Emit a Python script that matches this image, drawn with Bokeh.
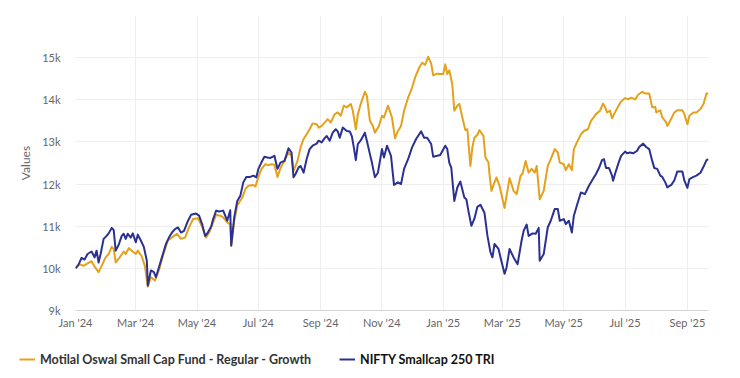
import pandas as pd
from bokeh.plotting import figure
from bokeh.layouts import column
from bokeh.models import Range1d, FixedTicker, DatetimeTickFormatter, Legend, LegendItem
from bokeh.embed import file_html
from bokeh.resources import INLINE

# ---- data (growth of 10,000) ----
fund_dates = [
    "2024-01-01", "2024-01-05", "2024-01-09", "2024-01-13", "2024-01-17", "2024-01-20", "2024-01-24", "2024-01-27",
    "2024-01-31", "2024-02-03", "2024-02-06", "2024-02-08", "2024-02-10", "2024-02-14", "2024-02-18", "2024-02-20",
    "2024-02-23", "2024-02-26", "2024-03-01", "2024-03-03", "2024-03-07", "2024-03-10", "2024-03-13", "2024-03-16",
    "2024-03-20", "2024-03-24", "2024-03-28", "2024-04-02", "2024-04-08", "2024-04-11", "2024-04-15", "2024-04-19",
    "2024-04-23", "2024-04-27", "2024-05-02", "2024-05-06", "2024-05-10", "2024-05-13", "2024-05-17", "2024-05-20",
    "2024-05-24", "2024-05-27", "2024-05-31", "2024-06-03", "2024-06-04", "2024-06-07", "2024-06-10", "2024-06-15",
    "2024-06-18", "2024-06-21", "2024-06-26", "2024-06-28", "2024-07-01", "2024-07-04", "2024-07-08", "2024-07-11",
    "2024-07-14", "2024-07-17", "2024-07-20", "2024-07-23", "2024-07-27", "2024-07-31", "2024-08-03", "2024-08-05",
    "2024-08-09", "2024-08-12", "2024-08-15", "2024-08-18", "2024-08-21", "2024-08-24", "2024-08-28", "2024-08-30",
    "2024-09-02", "2024-09-05", "2024-09-08", "2024-09-11", "2024-09-15", "2024-09-18", "2024-09-21", "2024-09-24",
    "2024-09-27", "2024-10-01", "2024-10-03", "2024-10-06", "2024-10-08", "2024-10-11", "2024-10-15", "2024-10-17",
    "2024-10-20", "2024-10-23", "2024-10-25", "2024-10-29", "2024-11-01", "2024-11-03", "2024-11-07", "2024-11-11",
    "2024-11-14", "2024-11-17", "2024-11-20", "2024-11-23", "2024-11-27", "2024-12-01", "2024-12-04", "2024-12-08",
    "2024-12-11", "2024-12-14", "2024-12-17", "2024-12-20", "2024-12-22", "2024-12-26", "2024-12-29", "2025-01-01",
    "2025-01-03", "2025-01-05", "2025-01-07", "2025-01-10", "2025-01-12", "2025-01-15", "2025-01-17", "2025-01-20",
    "2025-01-23", "2025-01-25", "2025-01-28", "2025-01-30", "2025-02-01", "2025-02-04", "2025-02-06", "2025-02-10",
    "2025-02-12", "2025-02-15", "2025-02-16", "2025-02-18", "2025-02-21", "2025-02-23", "2025-02-26", "2025-03-03",
    "2025-03-05", "2025-03-08", "2025-03-12", "2025-03-15", "2025-03-19", "2025-03-21", "2025-03-24", "2025-03-27",
    "2025-03-30", "2025-04-02", "2025-04-04", "2025-04-07", "2025-04-11", "2025-04-15", "2025-04-18", "2025-04-22",
    "2025-04-25", "2025-04-27", "2025-05-01", "2025-05-03", "2025-05-06", "2025-05-09", "2025-05-11", "2025-05-14",
    "2025-05-18", "2025-05-21", "2025-05-25", "2025-05-28", "2025-05-30", "2025-06-02", "2025-06-06", "2025-06-09",
    "2025-06-11", "2025-06-13", "2025-06-16", "2025-06-18", "2025-06-20", "2025-06-25", "2025-06-27", "2025-07-01",
    "2025-07-04", "2025-07-07", "2025-07-11", "2025-07-14", "2025-07-18", "2025-07-21", "2025-07-25", "2025-07-28",
    "2025-07-31", "2025-08-01", "2025-08-05", "2025-08-07", "2025-08-11", "2025-08-12", "2025-08-14", "2025-08-19",
    "2025-08-22", "2025-08-27", "2025-08-29", "2025-09-01", "2025-09-03", "2025-09-07", "2025-09-10", "2025-09-14",
    "2025-09-17", "2025-09-20", "2025-09-22",
]
fund_values = [
    10000, 10100, 10060, 10120, 10170, 10040, 9910, 10060,
    10260, 10340, 10510, 10460, 10140, 10260, 10400, 10340,
    10480, 10420, 10340, 10420, 10280, 10060, 9570, 9790,
    9710, 9950, 10300, 10660, 10770, 10820, 10700, 10730,
    10970, 11170, 11190, 10990, 10730, 10850, 11090, 11270,
    11250, 11210, 11090, 11040, 10540, 11130, 11490, 11680,
    11880, 11960, 11980, 11940, 12160, 12360, 12470, 12450,
    12470, 12460, 12170, 12380, 12550, 12750, 12670, 12320,
    12550, 12870, 13070, 13180, 13300, 13440, 13420, 13340,
    13380, 13460, 13540, 13460, 13660, 13700, 13620, 13860,
    13820, 13900, 13740, 13300, 13660, 13910, 14190, 14090,
    13500, 13380, 13220, 13380, 13620, 13580, 13860, 13580,
    13090, 13260, 13380, 13740, 14050, 14290, 14530, 14760,
    14880, 14830, 15020, 14860, 14580, 14620, 14610, 14610,
    14840, 14610, 14700, 14370, 13740, 13860, 13900, 13580,
    13280, 13300, 12430, 12870, 13100, 13170, 13280, 13140,
    12630, 12510, 12240, 11840, 12040, 12160, 11960, 11430,
    11720, 12140, 11840, 11760, 12200, 12250, 12550, 12270,
    12360, 12270, 12430, 11640, 11840, 12430, 12590, 12830,
    12750, 12510, 12470, 12330, 12470, 12330, 12830, 12990,
    13180, 13260, 13300, 13500, 13560, 13660, 13740, 13910,
    13830, 13700, 13740, 13560, 13660, 13880, 13960, 14040,
    14010, 14050, 14010, 14120, 14190, 14150, 14150, 13820,
    13830, 13700, 13750, 13580, 13460, 13380, 13460, 13700,
    13750, 13750, 13660, 13420, 13620, 13700, 13700, 13780,
    13900, 14150, 14150,
]

nifty_dates = [
    "2024-01-01", "2024-01-04", "2024-01-07", "2024-01-10", "2024-01-13", "2024-01-17", "2024-01-20", "2024-01-22",
    "2024-01-24", "2024-01-26", "2024-01-29", "2024-02-01", "2024-02-03", "2024-02-06", "2024-02-08", "2024-02-10",
    "2024-02-13", "2024-02-16", "2024-02-18", "2024-02-20", "2024-02-22", "2024-02-25", "2024-02-27", "2024-03-01",
    "2024-03-03", "2024-03-06", "2024-03-09", "2024-03-12", "2024-03-13", "2024-03-16", "2024-03-19", "2024-03-21",
    "2024-03-24", "2024-03-27", "2024-03-31", "2024-04-03", "2024-04-06", "2024-04-09", "2024-04-12", "2024-04-15",
    "2024-04-18", "2024-04-22", "2024-04-25", "2024-04-30", "2024-05-03", "2024-05-06", "2024-05-09", "2024-05-11",
    "2024-05-15", "2024-05-17", "2024-05-20", "2024-05-23", "2024-05-27", "2024-05-29", "2024-05-31", "2024-06-03",
    "2024-06-04", "2024-06-07", "2024-06-10", "2024-06-13", "2024-06-16", "2024-06-19", "2024-06-23", "2024-06-26",
    "2024-06-29", "2024-07-01", "2024-07-04", "2024-07-07", "2024-07-10", "2024-07-13", "2024-07-17", "2024-07-20",
    "2024-07-23", "2024-07-27", "2024-07-31", "2024-08-03", "2024-08-05", "2024-08-07", "2024-08-10", "2024-08-12",
    "2024-08-15", "2024-08-18", "2024-08-21", "2024-08-24", "2024-08-28", "2024-08-30", "2024-09-02", "2024-09-05",
    "2024-09-07", "2024-09-10", "2024-09-13", "2024-09-16", "2024-09-18", "2024-09-20", "2024-09-23", "2024-09-27",
    "2024-09-30", "2024-10-02", "2024-10-04", "2024-10-06", "2024-10-08", "2024-10-11", "2024-10-15", "2024-10-17",
    "2024-10-20", "2024-10-22", "2024-10-25", "2024-10-28", "2024-11-01", "2024-11-03", "2024-11-06", "2024-11-10",
    "2024-11-13", "2024-11-17", "2024-11-20", "2024-11-23", "2024-11-27", "2024-12-01", "2024-12-05", "2024-12-10",
    "2024-12-13", "2024-12-16", "2024-12-20", "2024-12-22", "2024-12-26", "2024-12-29", "2025-01-03", "2025-01-05",
    "2025-01-07", "2025-01-09", "2025-01-12", "2025-01-15", "2025-01-18", "2025-01-22", "2025-01-24", "2025-01-26",
    "2025-01-29", "2025-02-01", "2025-02-04", "2025-02-07", "2025-02-11", "2025-02-14", "2025-02-17", "2025-02-19",
    "2025-02-21", "2025-02-25", "2025-02-27", "2025-03-03", "2025-03-05", "2025-03-08", "2025-03-12", "2025-03-16",
    "2025-03-20", "2025-03-22", "2025-03-25", "2025-03-27", "2025-03-31", "2025-04-03", "2025-04-06", "2025-04-07",
    "2025-04-11", "2025-04-15", "2025-04-18", "2025-04-22", "2025-04-25", "2025-04-27", "2025-05-01", "2025-05-03",
    "2025-05-06", "2025-05-09", "2025-05-11", "2025-05-14", "2025-05-18", "2025-05-22", "2025-05-26", "2025-05-30",
    "2025-06-02", "2025-06-05", "2025-06-08", "2025-06-10", "2025-06-12", "2025-06-15", "2025-06-18", "2025-06-19",
    "2025-06-22", "2025-06-25", "2025-06-27", "2025-07-01", "2025-07-03", "2025-07-06", "2025-07-09", "2025-07-13",
    "2025-07-15", "2025-07-19", "2025-07-22", "2025-07-25", "2025-07-28", "2025-07-30", "2025-08-02", "2025-08-05",
    "2025-08-07", "2025-08-10", "2025-08-12", "2025-08-16", "2025-08-19", "2025-08-22", "2025-08-27", "2025-08-29",
    "2025-09-01", "2025-09-03", "2025-09-07", "2025-09-10", "2025-09-14", "2025-09-17", "2025-09-20", "2025-09-22",
]
nifty_values = [
    10000, 10090, 10250, 10210, 10340, 10400, 10260, 10420,
    10140, 10340, 10700, 10770, 10830, 10960, 10910, 10420,
    10560, 10770, 10820, 10700, 10820, 10730, 10830, 10620,
    10800, 10660, 10510, 10180, 9590, 9950, 9910, 9790,
    10020, 10260, 10580, 10730, 10850, 10930, 10970, 10850,
    10890, 11130, 11270, 11300, 11250, 11050, 10770, 10820,
    10990, 11170, 11370, 11350, 11370, 11250, 11130, 11380,
    10540, 11210, 11600, 11720, 12040, 12170, 12170, 12200,
    12160, 12360, 12510, 12650, 12630, 12620, 12670, 12360,
    12510, 12550, 12850, 12750, 12160, 12240, 12390, 12430,
    12270, 12590, 12830, 12910, 12960, 13030, 12990, 13090,
    13140, 13030, 13220, 13300, 13250, 13100, 13340, 13260,
    13250, 13140, 12870, 12570, 12950, 13040, 13220, 13030,
    12710, 12510, 12160, 12270, 12830, 12630, 12910, 12670,
    11980, 12040, 12000, 12360, 12590, 12870, 13070, 13250,
    13100, 13100, 12950, 12650, 12670, 12690, 12910, 12830,
    12510, 12390, 11600, 11920, 12060, 11680, 11640, 11370,
    11010, 11180, 11460, 11510, 11320, 10770, 10380, 10260,
    10580, 10460, 10260, 9870, 10020, 10460, 10260, 10100,
    10660, 10890, 11040, 10770, 10830, 10820, 10960, 10180,
    10340, 10970, 11130, 11410, 11410, 11130, 11170, 11050,
    11130, 10850, 11250, 11490, 11800, 11760, 11960, 12120,
    12240, 12380, 12570, 12590, 12380, 12380, 12200, 12080,
    12320, 12540, 12670, 12770, 12730, 12750, 12730, 12790,
    12880, 12960, 12880, 12830, 12550, 12380, 12360, 12200,
    12170, 12040, 11920, 11980, 12090, 12300, 12300, 12080,
    11910, 12120, 12170, 12200, 12270, 12410, 12570, 12590,
]

fund_name = "Motilal Oswal Small Cap Fund - Regular - Growth"
index_name = "NIFTY Smallcap 250 TRI"

y_ticks = [9000, 10000, 11000, 12000, 13000, 14000, 15000]
y_tick_labels = ["9k", "10k", "11k", "12k", "13k", "14k", "15k"]
x_tick_months = ["2024-01-01", "2024-03-01", "2024-05-01", "2024-07-01", "2024-09-01", "2024-11-01",
                 "2025-01-01", "2025-03-01", "2025-05-01", "2025-07-01", "2025-09-01"]

FONT = "Lato"
ORANGE = "#E4A11B"
NAVY = "#2B3191"
GRID = "#eeeeee"

fd = pd.to_datetime(fund_dates)
nd = pd.to_datetime(nifty_dates)

# ---- main chart ----
p = figure(width=732, height=340, x_axis_type="datetime", output_backend="svg", toolbar_location=None,
           x_range=Range1d(pd.Timestamp(fund_dates[0]), pd.Timestamp(fund_dates[-1])),
           y_range=Range1d(9000, 16000),
           min_border_left=75, min_border_right=24, min_border_top=15, min_border_bottom=30)
p.frame_align = False
p.outline_line_color = None
p.background_fill_color = "white"
p.border_fill_color = "white"

p.line(fd, fund_values, line_color=ORANGE, line_width=2, line_join="round")
p.line(nd, nifty_values, line_color=NAVY, line_width=2, line_join="round")

p.xaxis.ticker = FixedTicker(ticks=[pd.Timestamp(m).value // 10**6 for m in x_tick_months])
p.xaxis.formatter = DatetimeTickFormatter(days="%b '%y", months="%b '%y", years="%b '%y")
p.xaxis.axis_line_color = "#d6d6d6"
p.xaxis.major_tick_line_color = None
p.xaxis.minor_tick_line_color = None
p.xaxis.major_tick_out = 0
p.xaxis.major_label_standoff = 5
p.xaxis.major_label_text_font = FONT
p.xaxis.major_label_text_font_size = "11px"
p.xaxis.major_label_text_color = "#666666"

p.yaxis.ticker = FixedTicker(ticks=y_ticks)
p.yaxis.major_label_overrides = {t: l for t, l in zip(y_ticks, y_tick_labels)}
p.yaxis.axis_line_color = None
p.yaxis.major_tick_line_color = None
p.yaxis.minor_tick_line_color = None
p.yaxis.major_tick_out = 0
p.yaxis.major_label_standoff = 15
p.yaxis.major_label_text_font = FONT
p.yaxis.major_label_text_font_size = "11px"
p.yaxis.major_label_text_color = "#666666"
p.yaxis.axis_label = "Values"
p.yaxis.axis_label_text_font = FONT
p.yaxis.axis_label_text_font_size = "12px"
p.yaxis.axis_label_text_font_style = "normal"
p.yaxis.axis_label_text_color = "#666666"
p.yaxis.axis_label_standoff = 6

p.xgrid.grid_line_color = GRID
p.ygrid.grid_line_color = GRID

# ---- legend strip below the chart ----
lg = figure(width=732, height=38, output_backend="svg", toolbar_location=None,
            x_range=Range1d(0, 1), y_range=Range1d(0, 1),
            x_axis_location=None, y_axis_location=None,
            min_border_left=0, min_border_right=0, min_border_top=0, min_border_bottom=0)
lg.frame_align = False
lg.outline_line_color = None
lg.xgrid.visible = False
lg.ygrid.visible = False
l1 = lg.line(fd, fund_values, line_color=ORANGE, line_width=2)
l2 = lg.line(nd, nifty_values, line_color=NAVY, line_width=2)

legend_style = dict(orientation="horizontal", padding=0, margin=0, glyph_width=16, glyph_height=20,
                    label_standoff=5, border_line_color=None, background_fill_alpha=0,
                    label_text_font=FONT, label_text_font_size="12.5px", label_text_font_style="bold")
leg1 = Legend(items=[LegendItem(label=fund_name, renderers=[l1])], location=(19, 9),
              label_text_color="#333333", **legend_style)
leg2 = Legend(items=[LegendItem(label=index_name, renderers=[l2])], location=(339, 9),
              label_text_color="#111111", **legend_style)
lg.add_layout(leg1)
lg.add_layout(leg2)

layout = column(p, lg, spacing=0)
open("out.html", "w").write(file_html(layout, INLINE))
